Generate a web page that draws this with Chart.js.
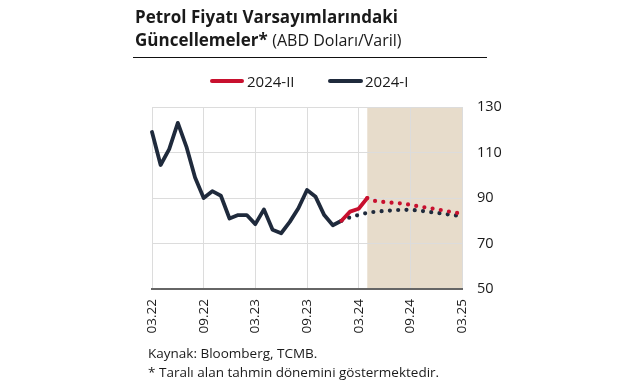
<!DOCTYPE html>
<html><head><meta charset="utf-8">
<script src="https://cdn.jsdelivr.net/npm/chart.js@4"></script>
<style>
html,body{margin:0;padding:0;background:#fff;}
body{width:641px;height:380px;position:relative;overflow:hidden;font-family:"Open Sans",sans-serif;color:#1a1a1a;}
#c{position:absolute;left:0;top:0;}
.t{position:absolute;white-space:nowrap;}
</style></head><body>
<canvas id="c" width="641" height="380"></canvas>
<div class="t" style="left:135px;top:5px;font-size:17px;line-height:23px;"><b>Petrol Fiyatı Varsayımlarındaki</b><br><b>Güncellemeler*</b> <span style="font-size:16px;">(ABD Doları/Varil)</span></div>
<div class="t" style="left:133px;top:57px;width:354px;height:1px;background:#111;"></div>
<div class="t" style="left:210px;top:79px;width:34px;height:4px;background:#c8102e;border-radius:2px;"></div>
<div class="t" style="left:247px;top:71px;font-size:15px;line-height:20px;">2024-II</div>
<div class="t" style="left:328px;top:79px;width:35px;height:4px;background:#1f2a3c;border-radius:2px;"></div>
<div class="t" style="left:365px;top:71px;font-size:15px;line-height:20px;">2024-I</div>
<div class="t" style="left:148px;top:344px;font-size:13.5px;line-height:19px;">Kaynak: Bloomberg, TCMB.<br>* Taralı alan tahmin dönemini göstermektedir.</div>
<script>
// Monthly categories 03.22 .. 03.25
const months = ["03.22","04.22","05.22","06.22","07.22","08.22","09.22","10.22","11.22","12.22",
"01.23","02.23","03.23","04.23","05.23","06.23","07.23","08.23","09.23","10.23","11.23","12.23",
"01.24","02.24","03.24","04.24","05.24","06.24","07.24","08.24","09.24","10.24","11.24","12.24",
"01.25","02.25","03.25"];
const yTicks = [50,70,90,110,130];
const forecastStart = "04.24";
// 2024-I (black): realised 03.22..01.24, forecast 01.24..03.25
const black2024I_actual = [119,104.5,111.5,123,112.5,99,90,93,91,81,82.5,82.5,78.5,85,76,74.5,79.5,85.5,93.5,90.5,82.5,78,80];
const black2024I_forecast = [80,81.5,82.6,83.5,84,84.3,84.6,84.8,84.8,84.5,84,83.5,83,82.5,82];
// 2024-II (red): realised 01.24..04.24, forecast 04.24..03.25
const red2024II_actual = [80,84,85.3,90];
const red2024II_forecast = [90,88.6,88.2,87.9,87.6,87,86.3,85.7,85.1,84.4,83.7,83.1];

function place(arr, startLabel){
  const out = new Array(months.length).fill(null);
  const s = months.indexOf(startLabel);
  arr.forEach((v,i)=>{ out[s+i]=v; });
  return out;
}
const RED='#c8102e', NAVY='#1f2a3c';
const shade = {
  id:'shade',
  beforeDraw(chart){
    const {ctx, chartArea, scales} = chart;
    const x0 = scales.x.getPixelForValue(months.indexOf(forecastStart));
    ctx.save();
    ctx.fillStyle = '#e7dccb';
    ctx.fillRect(x0, chartArea.top, chartArea.right - x0, chartArea.bottom - chartArea.top);
    ctx.restore();
  }
};
const dotted = {borderDash:[0,8.3], borderCapStyle:'round', borderWidth:4.2};
new Chart(document.getElementById('c'), {
  type:'line',
  data:{
    labels: months,
    datasets:[
      {label:'2024-II', data:place(red2024II_actual,"01.24"), borderColor:RED, borderWidth:3.8, borderCapStyle:'round', borderJoinStyle:'round'},
      {label:'2024-II tahmin', data:place(red2024II_forecast,"04.24"), borderColor:RED, ...dotted},
      {label:'2024-I', data:place(black2024I_actual,"03.22"), borderColor:NAVY, borderWidth:3.8, borderCapStyle:'round', borderJoinStyle:'round'},
      {label:'2024-I tahmin', data:place(black2024I_forecast,"01.24"), borderColor:NAVY, ...dotted}
    ]
  },
  options:{
    responsive:false, animation:false,
    devicePixelRatio:1,
    layout:{padding:{left:152, right:129, top:107, bottom:41}},
    elements:{point:{radius:0}, line:{tension:0}},
    plugins:{legend:{display:false}, tooltip:{enabled:false}},
    scales:{
      x:{
        offset:false,
        grid:{drawTicks:false, color:(c)=> (c.index%6===0 ? '#dcdcdc' : 'rgba(0,0,0,0)'), lineWidth:1},
        border:{display:true, color:'#666', width:2},
        ticks:{autoSkip:false, maxRotation:90, minRotation:90, padding:10, color:'#1a1a1a',
          font:{family:'"Open Sans"', size:13.5},
          callback:function(v,i){ return i%6===0 ? months[i] : ''; }},
        afterFit(s){ s.height = 50; }
      },
      y:{
        position:'right', min:50, max:130,
        afterBuildTicks(s){ s.ticks = yTicks.map(v=>({value:v})); },
        grid:{drawTicks:false, color:'#dcdcdc', lineWidth:1},
        border:{display:false},
        ticks:{padding:15, color:'#1a1a1a', font:{family:'"Open Sans"', size:14.5}},
        afterFit(s){ s.width = 50; }
      }
    }
  },
  plugins:[shade]
});
</script>
</body></html>
